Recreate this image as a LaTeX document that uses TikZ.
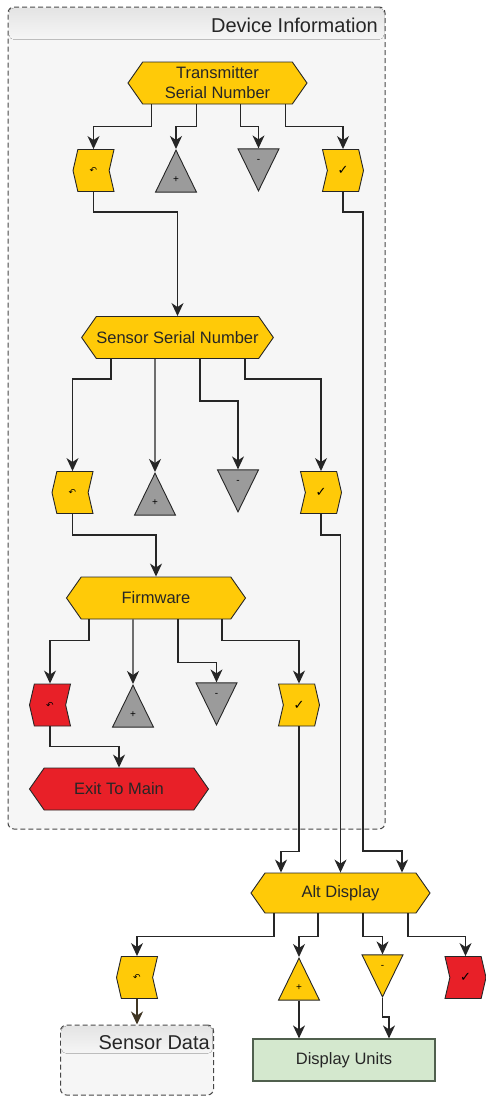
\documentclass[tikz,border=0pt]{standalone}
\usepackage{fontspec}
\setmainfont{Liberation Sans}
\newfontfamily\symfont{DejaVu Sans}
\usepackage{xcolor}
\usepackage{tikz}
\usetikzlibrary{arrows.meta}
\usetikzlibrary{shapes.symbols}
\usetikzlibrary{shapes.geometric}
\newcommand{\undo}{{\symfont\fontsize{9}{9}\selectfont ↶}}
\newcommand{\ok}{{\symfont\fontsize{13}{13}\selectfont ✓}}
\definecolor{gold}{RGB}{255, 202, 8}
\definecolor{alarm}{RGB}{232, 32, 40}
\definecolor{slate}{RGB}{155, 155, 155}
\definecolor{ink}{RGB}{38, 38, 38}
\definecolor{panel}{RGB}{246, 246, 246}
\definecolor{band}{RGB}{228, 228, 228}
\definecolor{mint}{RGB}{212, 232, 206}
\definecolor{moss}{RGB}{80, 96, 78}
\definecolor{umber}{RGB}{64, 54, 36}
\tikzset{
  hexbox/.style={signal, signal to=west and east, signal pointer angle=110,
    draw=ink, line width=0.9pt, fill=gold, minimum width=179pt, minimum height=42pt,
    inner sep=0pt, align=center, text=ink, font=\fontsize{16.5}{20}\selectfont},
  backbox/.style={signal, signal to=west, signal from=east, signal pointer angle=154,
    draw=ink, line width=0.9pt, fill=gold, minimum width=41pt, minimum height=42pt, inner sep=0pt},
  okbox/.style={signal, signal to=east, signal from=west, signal pointer angle=154,
    draw=ink, line width=0.9pt, fill=gold, minimum width=41pt, minimum height=42pt, inner sep=0pt},
  upbox/.style={isosceles triangle, isosceles triangle stretches, shape border rotate=90,
    draw=ink, line width=0.9pt, fill=slate, minimum width=41pt, minimum height=42pt,
    inner sep=0pt, anchor=apex, font=\fontsize{10}{10}\selectfont},
  downbox/.style={upbox, shape border rotate=-90},
  grpbox/.style={draw=ink!85, line width=1pt, dash pattern=on 5pt off 3pt,
    rounded corners=6pt, fill=panel},
  grptitle/.style={anchor=east, inner sep=1pt, text=ink, font=\fontsize{20}{24}\selectfont},
  unitbox/.style={rectangle, draw=moss, line width=1.2pt, fill=mint, minimum width=182pt,
    minimum height=42pt, text=ink, font=\fontsize{16.5}{20}\selectfont},
  flow/.style={draw=ink, line width=1.3pt, -{Stealth[length=13pt, width=12pt, inset=4pt]}}
}

\begin{document}
\begin{tikzpicture}[x=1pt, y=-1pt]
  \useasboundingbox (0,0) rectangle (486,1096);

  \node[grpbox, minimum width=377pt, minimum height=822pt] (devinfo) at (196.5,418) {};
  \fill[top color=band, bottom color=panel, rounded corners=5pt]
    ([shift={(1.5,1.5)}]devinfo.north west) rectangle ([shift={(-1.5,33)}]devinfo.north east);
  \node[grptitle] (devtitle) at (379,25) {Device Information};

  \node[grpbox, minimum width=153pt, minimum height=70pt] (sdata) at (137,1060) {};
  \fill[top color=band, bottom color=panel, rounded corners=5pt]
    ([shift={(1.5,1.5)}]sdata.north west) rectangle ([shift={(-1.5,29)}]sdata.north east);
  \node[grptitle] (sdatatitle) at (211,1043) {Sensor Data};

  \node[hexbox] (tsn) at (217.5,83) {Transmitter\\Serial Number};
  \node[backbox] (back1) at (93.5,170.5) {\undo};
  \node[upbox] (plus1) at (176,149) {+};
  \node[downbox] (minus1) at (258.5,192) {-};
  \node[okbox] (check1) at (343,170.5) {\ok};

  \node[hexbox] (ssn) at (177.5,337.5) {Sensor Serial Number};
  \node[backbox] (back2) at (72.5,492.5) {\undo};
  \node[upbox] (plus2) at (155,472) {+};
  \node[downbox] (minus2) at (238,513) {-};
  \node[okbox] (check2) at (321,492.5) {\ok};

  \node[hexbox] (firm) at (156,598) {Firmware};
  \node[backbox, fill=alarm] (back3) at (50,705) {\undo};
  \node[upbox] (plus3) at (133,684) {+};
  \node[downbox] (minus3) at (216.5,726) {-};
  \node[okbox] (check3) at (299,705) {\ok};
  \node[hexbox, fill=alarm] (exit) at (119,789) {Exit To Main};

  \node[hexbox, minimum height=40pt] (alt) at (340.5,893) {Alt Display};
  \node[backbox] (back4) at (137,977.5) {\undo};
  \node[upbox, fill=gold] (plus4) at (299,957) {+};
  \node[downbox, fill=gold] (minus4) at (382.5,998) {-};
  \node[okbox, fill=alarm] (check4) at (465.5,977.5) {\ok};
  \node[unitbox] (units) at (344,1060) {Display Units};

  \coordinate (rail) at (363,851);

  \draw[flow] ([xshift=-66pt]tsn.south) -- ++(0,22) -| (back1);
  \draw[flow] ([xshift=-21pt]tsn.south) -- ++(0,22) -| (plus1);
  \draw[flow] ([xshift=23pt]tsn.south) -- ++(0,22) -| (minus1);
  \draw[flow] ([xshift=68pt]tsn.south) -- ++(0,22) -| (check1);
  \draw[flow] (back1.south) -- ++(0,20) -| (ssn);
  \draw[flow] (check1.south) -- ++(0,20) -| (rail) -| ([xshift=61.5pt]alt.north);

  \draw[flow] ([xshift=-66.5pt]ssn.south) -- ++(0,20) -| (back2);
  \draw[flow] (ssn.south -| plus2) -- (plus2);
  \draw[flow] ([xshift=22.5pt]ssn.south) -- ++(0,42) -| (minus2);
  \draw[flow] ([xshift=67.5pt]ssn.south) -- ++(0,20) -| (check2);
  \draw[flow] (back2.south) -- ++(0,21) -| (firm);
  \draw[flow] (check2.south) -- ++(0,21) -| (alt);

  \draw[flow] ([xshift=-67pt]firm.south) -- ++(0,21) -| (back3);
  \draw[flow] (firm.south -| plus3) -- (plus3);
  \draw[flow] ([xshift=22pt]firm.south) -- ++(0,43) -| (minus3);
  \draw[flow] ([xshift=66pt]firm.south) -- ++(0,21) -| (check3);
  \draw[flow] (back3.south) -- ++(0,20) -| (exit);
  \draw[flow] (check3.south) -- ++(0,125) -| ([xshift=-59.5pt]alt.north);

  \draw[flow] ([xshift=-66.5pt]alt.south) -- ++(0,23) -| (back4);
  \draw[flow] ([xshift=-22.5pt]alt.south) -- ++(0,23) -| (plus4);
  \draw[flow] ([xshift=22.5pt]alt.south) -- ++(0,23) -| (minus4);
  \draw[flow] ([xshift=67.5pt]alt.south) -- ++(0,23) -| (check4);
  \draw[flow, draw=umber] (back4.south) -- (back4.south |- sdata.north);
  \draw[flow] (plus4.south) -- (plus4.south |- units.north);
  \draw[flow] (minus4.south) -- ++(0,19) -| ([xshift=45pt]units.north);
\end{tikzpicture}
\end{document}
